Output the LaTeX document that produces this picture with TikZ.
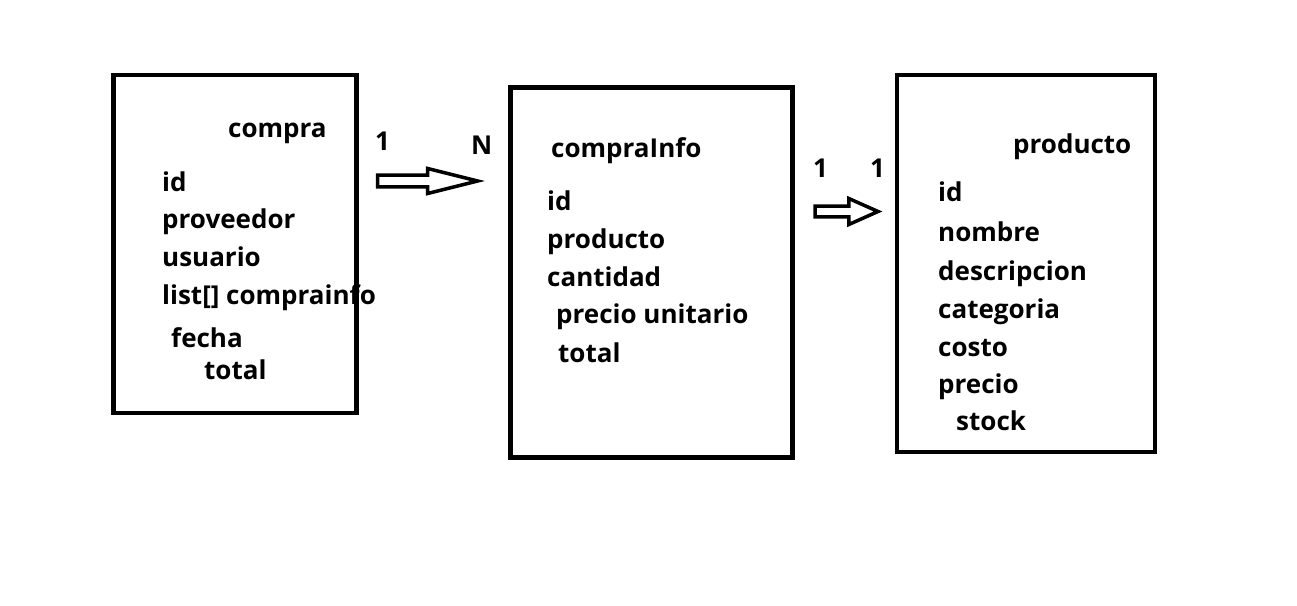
\documentclass[tikz,border=0pt]{standalone}
\usepackage{fontspec}
\setmainfont{Open Sans}[BoldFont={* Bold}]
\usetikzlibrary{shapes.arrows}

\begin{document}
\begin{tikzpicture}[x=1pt,y=-1pt,
    entidad/.style={draw,line width=4.5pt,rectangle,inner sep=0pt},
    campo/.style={anchor=base west,inner sep=0pt,font=\fontsize{26}{31}\selectfont\bfseries},
    flecha/.style={draw,line width=3.5pt,single arrow,inner sep=0pt,shape border rotate=0}]
          \useasboundingbox (0,0) rectangle (1297,605);
          % entidades
          \node[entidad,minimum width=243pt,minimum height=338pt] (compra) at (235,244) {};
          \node[entidad,minimum width=282pt,minimum height=370pt] (info) at (651.5,272.5) {};
          \node[entidad,minimum width=258pt,minimum height=377pt] (producto) at (1026,263.5) {};
          % compra
          \node[campo] (cT) at (228,137) {compra};
          \node[campo] (c1) at (162,191) {id};
          \node[campo] (c2) at (162,228) {proveedor};
          \node[campo] (c3) at (162,266) {usuario};
          \node[campo] (c4) at (162,304) {list[] comprainfo};
          \node[campo] (c5) at (171,347) {fecha};
          \node[campo] (c6) at (204,379) {total};
          % compraInfo
          \node[campo] (iT) at (551,157) {compraInfo};
          \node[campo] (i1) at (547,210) {id};
          \node[campo] (i2) at (547,248) {producto};
          \node[campo] (i3) at (547,286) {cantidad};
          \node[campo] (i4) at (556,323) {precio unitario};
          \node[campo] (i5) at (558,362) {total};
          % producto
          \node[campo] (pT) at (1013,153) {producto};
          \node[campo] (p1) at (938,201) {id};
          \node[campo] (p2) at (938,241) {nombre};
          \node[campo] (p3) at (938,280) {descripcion};
          \node[campo] (p4) at (938,318) {categoria};
          \node[campo] (p5) at (938,356) {costo};
          \node[campo] (p6) at (938,393) {precio};
          \node[campo] (p7) at (956,430) {stock};
          % relaciones
          \node[flecha,minimum height=100pt,minimum width=25pt,single arrow head extend=2pt,single arrow tip angle=28] (rel1) at (416,181) {};
          \node[flecha,minimum height=63pt,minimum width=26pt,single arrow head extend=2.5pt,single arrow tip angle=48] (rel2) at (840.5,211.5) {};
          \node[campo] (m1) at (375,150) {1};
          \node[campo] (n1) at (471,154) {N};
          \node[campo] (m2) at (813,177) {1};
          \node[campo] (n2) at (870,177) {1};
\end{tikzpicture}
\end{document}
